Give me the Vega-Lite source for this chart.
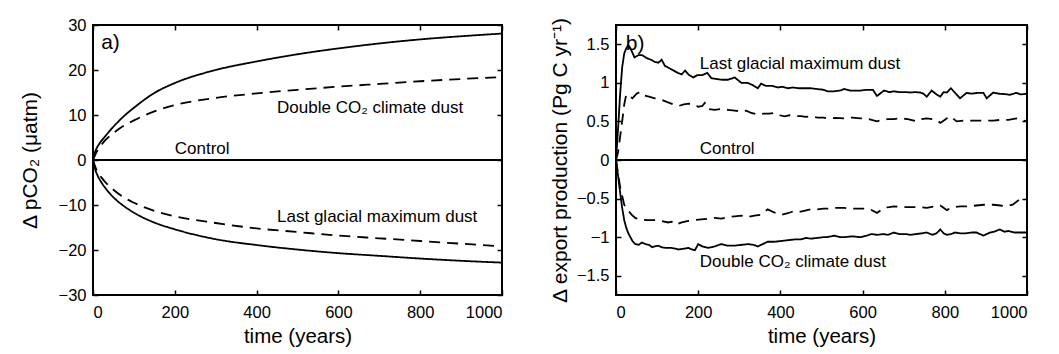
{
  "$schema": "https://vega.github.io/schema/vega-lite/v6.json",
  "background": "white",
  "padding": {"left": 18, "top": 16, "right": 5, "bottom": 2},
  "spacing": 41,
  "config": {
    "font": "Liberation Sans",
    "view": {"stroke": "black", "strokeWidth": 2},
    "axis": {
      "labelFont": "Liberation Sans", "labelFontSize": 16.5, "labelColor": "black",
      "titleFont": "Liberation Sans", "titleFontSize": 21, "titleFontWeight": "normal", "titleColor": "black",
      "tickColor": "black", "tickWidth": 1.5, "tickSize": -5, "domain": false, "grid": false,
      "labelPadding": 12
    },
    "axisX": {"labelPadding": 14, "titlePadding": 6, "titleFontSize": 20.5},
    "text": {"font": "Liberation Sans", "fontSize": 17, "color": "black"}
  },
  "datasets": {
    "a": [
      {"t": 0, "v": 0, "series": "control", "run": "run 1"},
      {"t": 1000, "v": 0, "series": "control", "run": "run 1"},
      {"t": 0, "v": 0, "series": "dcd_1", "run": "run 1"},
      {"t": 5, "v": 1.8, "series": "dcd_1", "run": "run 1"},
      {"t": 10, "v": 2.8, "series": "dcd_1", "run": "run 1"},
      {"t": 20, "v": 4.2, "series": "dcd_1", "run": "run 1"},
      {"t": 30, "v": 5.3, "series": "dcd_1", "run": "run 1"},
      {"t": 50, "v": 7.4, "series": "dcd_1", "run": "run 1"},
      {"t": 75, "v": 9.7, "series": "dcd_1", "run": "run 1"},
      {"t": 100, "v": 11.6, "series": "dcd_1", "run": "run 1"},
      {"t": 150, "v": 14.9, "series": "dcd_1", "run": "run 1"},
      {"t": 200, "v": 17.1, "series": "dcd_1", "run": "run 1"},
      {"t": 300, "v": 20.0, "series": "dcd_1", "run": "run 1"},
      {"t": 400, "v": 21.9, "series": "dcd_1", "run": "run 1"},
      {"t": 500, "v": 23.5, "series": "dcd_1", "run": "run 1"},
      {"t": 600, "v": 24.8, "series": "dcd_1", "run": "run 1"},
      {"t": 700, "v": 25.9, "series": "dcd_1", "run": "run 1"},
      {"t": 800, "v": 26.8, "series": "dcd_1", "run": "run 1"},
      {"t": 900, "v": 27.5, "series": "dcd_1", "run": "run 1"},
      {"t": 1000, "v": 28.1, "series": "dcd_1", "run": "run 1"},
      {"t": 0, "v": 0, "series": "dcd_2", "run": "run 2"},
      {"t": 10, "v": 2.0, "series": "dcd_2", "run": "run 2"},
      {"t": 20, "v": 3.3, "series": "dcd_2", "run": "run 2"},
      {"t": 30, "v": 4.4, "series": "dcd_2", "run": "run 2"},
      {"t": 50, "v": 6.0, "series": "dcd_2", "run": "run 2"},
      {"t": 75, "v": 7.6, "series": "dcd_2", "run": "run 2"},
      {"t": 100, "v": 8.8, "series": "dcd_2", "run": "run 2"},
      {"t": 150, "v": 10.8, "series": "dcd_2", "run": "run 2"},
      {"t": 200, "v": 12.2, "series": "dcd_2", "run": "run 2"},
      {"t": 300, "v": 13.8, "series": "dcd_2", "run": "run 2"},
      {"t": 400, "v": 14.8, "series": "dcd_2", "run": "run 2"},
      {"t": 500, "v": 15.6, "series": "dcd_2", "run": "run 2"},
      {"t": 600, "v": 16.3, "series": "dcd_2", "run": "run 2"},
      {"t": 700, "v": 16.9, "series": "dcd_2", "run": "run 2"},
      {"t": 800, "v": 17.5, "series": "dcd_2", "run": "run 2"},
      {"t": 900, "v": 18.0, "series": "dcd_2", "run": "run 2"},
      {"t": 1000, "v": 18.4, "series": "dcd_2", "run": "run 2"},
      {"t": 0, "v": 0, "series": "lgm_1", "run": "run 1"},
      {"t": 5, "v": -2.0, "series": "lgm_1", "run": "run 1"},
      {"t": 10, "v": -3.2, "series": "lgm_1", "run": "run 1"},
      {"t": 20, "v": -4.9, "series": "lgm_1", "run": "run 1"},
      {"t": 30, "v": -6.2, "series": "lgm_1", "run": "run 1"},
      {"t": 50, "v": -8.3, "series": "lgm_1", "run": "run 1"},
      {"t": 75, "v": -10.2, "series": "lgm_1", "run": "run 1"},
      {"t": 100, "v": -11.7, "series": "lgm_1", "run": "run 1"},
      {"t": 150, "v": -13.9, "series": "lgm_1", "run": "run 1"},
      {"t": 200, "v": -15.4, "series": "lgm_1", "run": "run 1"},
      {"t": 300, "v": -17.6, "series": "lgm_1", "run": "run 1"},
      {"t": 400, "v": -18.9, "series": "lgm_1", "run": "run 1"},
      {"t": 500, "v": -19.9, "series": "lgm_1", "run": "run 1"},
      {"t": 600, "v": -20.7, "series": "lgm_1", "run": "run 1"},
      {"t": 700, "v": -21.3, "series": "lgm_1", "run": "run 1"},
      {"t": 800, "v": -21.9, "series": "lgm_1", "run": "run 1"},
      {"t": 900, "v": -22.4, "series": "lgm_1", "run": "run 1"},
      {"t": 1000, "v": -22.8, "series": "lgm_1", "run": "run 1"},
      {"t": 0, "v": 0, "series": "lgm_2", "run": "run 2"},
      {"t": 10, "v": -2.5, "series": "lgm_2", "run": "run 2"},
      {"t": 20, "v": -3.8, "series": "lgm_2", "run": "run 2"},
      {"t": 30, "v": -4.9, "series": "lgm_2", "run": "run 2"},
      {"t": 50, "v": -6.6, "series": "lgm_2", "run": "run 2"},
      {"t": 75, "v": -8.3, "series": "lgm_2", "run": "run 2"},
      {"t": 100, "v": -9.5, "series": "lgm_2", "run": "run 2"},
      {"t": 150, "v": -11.3, "series": "lgm_2", "run": "run 2"},
      {"t": 200, "v": -12.5, "series": "lgm_2", "run": "run 2"},
      {"t": 300, "v": -14.0, "series": "lgm_2", "run": "run 2"},
      {"t": 400, "v": -15.2, "series": "lgm_2", "run": "run 2"},
      {"t": 500, "v": -16.0, "series": "lgm_2", "run": "run 2"},
      {"t": 600, "v": -16.8, "series": "lgm_2", "run": "run 2"},
      {"t": 700, "v": -17.4, "series": "lgm_2", "run": "run 2"},
      {"t": 800, "v": -18.0, "series": "lgm_2", "run": "run 2"},
      {"t": 900, "v": -18.6, "series": "lgm_2", "run": "run 2"},
      {"t": 1000, "v": -19.2, "series": "lgm_2", "run": "run 2"}
    ],
    "b": [
      {"t": 0, "v": 0, "series": "control", "run": "run 1"},
      {"t": 1000, "v": 0, "series": "control", "run": "run 1"},
      {"t": 0, "v": 0, "series": "lgm_1", "run": "run 1"},
      {"t": 5, "v": 0.4, "series": "lgm_1", "run": "run 1"},
      {"t": 10, "v": 0.85, "series": "lgm_1", "run": "run 1"},
      {"t": 15, "v": 1.2, "series": "lgm_1", "run": "run 1"},
      {"t": 20, "v": 1.38, "series": "lgm_1", "run": "run 1"},
      {"t": 25, "v": 1.45, "series": "lgm_1", "run": "run 1"},
      {"t": 30, "v": 1.49, "series": "lgm_1", "run": "run 1"},
      {"t": 35, "v": 1.45, "series": "lgm_1", "run": "run 1"},
      {"t": 45, "v": 1.33, "series": "lgm_1", "run": "run 1"},
      {"t": 55, "v": 1.36, "series": "lgm_1", "run": "run 1"},
      {"t": 63, "v": 1.36, "series": "lgm_1", "run": "run 1"},
      {"t": 75, "v": 1.32, "series": "lgm_1", "run": "run 1"},
      {"t": 85, "v": 1.30, "series": "lgm_1", "run": "run 1"},
      {"t": 95, "v": 1.27, "series": "lgm_1", "run": "run 1"},
      {"t": 103, "v": 1.26, "series": "lgm_1", "run": "run 1"},
      {"t": 111, "v": 1.30, "series": "lgm_1", "run": "run 1"},
      {"t": 119, "v": 1.22, "series": "lgm_1", "run": "run 1"},
      {"t": 130, "v": 1.19, "series": "lgm_1", "run": "run 1"},
      {"t": 140, "v": 1.16, "series": "lgm_1", "run": "run 1"},
      {"t": 150, "v": 1.13, "series": "lgm_1", "run": "run 1"},
      {"t": 160, "v": 1.11, "series": "lgm_1", "run": "run 1"},
      {"t": 168, "v": 1.16, "series": "lgm_1", "run": "run 1"},
      {"t": 178, "v": 1.10, "series": "lgm_1", "run": "run 1"},
      {"t": 188, "v": 1.07, "series": "lgm_1", "run": "run 1"},
      {"t": 198, "v": 1.10, "series": "lgm_1", "run": "run 1"},
      {"t": 210, "v": 1.10, "series": "lgm_1", "run": "run 1"},
      {"t": 222, "v": 1.13, "series": "lgm_1", "run": "run 1"},
      {"t": 232, "v": 1.06, "series": "lgm_1", "run": "run 1"},
      {"t": 245, "v": 1.05, "series": "lgm_1", "run": "run 1"},
      {"t": 258, "v": 1.04, "series": "lgm_1", "run": "run 1"},
      {"t": 272, "v": 1.04, "series": "lgm_1", "run": "run 1"},
      {"t": 289, "v": 1.07, "series": "lgm_1", "run": "run 1"},
      {"t": 305, "v": 1.00, "series": "lgm_1", "run": "run 1"},
      {"t": 320, "v": 1.00, "series": "lgm_1", "run": "run 1"},
      {"t": 333, "v": 0.97, "series": "lgm_1", "run": "run 1"},
      {"t": 345, "v": 0.93, "series": "lgm_1", "run": "run 1"},
      {"t": 353, "v": 0.99, "series": "lgm_1", "run": "run 1"},
      {"t": 365, "v": 0.96, "series": "lgm_1", "run": "run 1"},
      {"t": 380, "v": 0.96, "series": "lgm_1", "run": "run 1"},
      {"t": 394, "v": 0.94, "series": "lgm_1", "run": "run 1"},
      {"t": 405, "v": 0.95, "series": "lgm_1", "run": "run 1"},
      {"t": 418, "v": 0.93, "series": "lgm_1", "run": "run 1"},
      {"t": 430, "v": 0.94, "series": "lgm_1", "run": "run 1"},
      {"t": 445, "v": 0.93, "series": "lgm_1", "run": "run 1"},
      {"t": 460, "v": 0.93, "series": "lgm_1", "run": "run 1"},
      {"t": 474, "v": 0.93, "series": "lgm_1", "run": "run 1"},
      {"t": 490, "v": 0.92, "series": "lgm_1", "run": "run 1"},
      {"t": 505, "v": 0.91, "series": "lgm_1", "run": "run 1"},
      {"t": 515, "v": 0.89, "series": "lgm_1", "run": "run 1"},
      {"t": 530, "v": 0.89, "series": "lgm_1", "run": "run 1"},
      {"t": 545, "v": 0.90, "series": "lgm_1", "run": "run 1"},
      {"t": 555, "v": 0.92, "series": "lgm_1", "run": "run 1"},
      {"t": 570, "v": 0.90, "series": "lgm_1", "run": "run 1"},
      {"t": 585, "v": 0.90, "series": "lgm_1", "run": "run 1"},
      {"t": 595, "v": 0.90, "series": "lgm_1", "run": "run 1"},
      {"t": 610, "v": 0.91, "series": "lgm_1", "run": "run 1"},
      {"t": 625, "v": 0.91, "series": "lgm_1", "run": "run 1"},
      {"t": 635, "v": 0.83, "series": "lgm_1", "run": "run 1"},
      {"t": 652, "v": 0.90, "series": "lgm_1", "run": "run 1"},
      {"t": 665, "v": 0.88, "series": "lgm_1", "run": "run 1"},
      {"t": 676, "v": 0.89, "series": "lgm_1", "run": "run 1"},
      {"t": 690, "v": 0.88, "series": "lgm_1", "run": "run 1"},
      {"t": 705, "v": 0.88, "series": "lgm_1", "run": "run 1"},
      {"t": 716, "v": 0.875, "series": "lgm_1", "run": "run 1"},
      {"t": 728, "v": 0.88, "series": "lgm_1", "run": "run 1"},
      {"t": 740, "v": 0.875, "series": "lgm_1", "run": "run 1"},
      {"t": 748, "v": 0.86, "series": "lgm_1", "run": "run 1"},
      {"t": 756, "v": 0.82, "series": "lgm_1", "run": "run 1"},
      {"t": 768, "v": 0.90, "series": "lgm_1", "run": "run 1"},
      {"t": 780, "v": 0.85, "series": "lgm_1", "run": "run 1"},
      {"t": 789, "v": 0.82, "series": "lgm_1", "run": "run 1"},
      {"t": 797, "v": 0.88, "series": "lgm_1", "run": "run 1"},
      {"t": 805, "v": 0.875, "series": "lgm_1", "run": "run 1"},
      {"t": 815, "v": 0.93, "series": "lgm_1", "run": "run 1"},
      {"t": 825, "v": 0.87, "series": "lgm_1", "run": "run 1"},
      {"t": 837, "v": 0.80, "series": "lgm_1", "run": "run 1"},
      {"t": 853, "v": 0.87, "series": "lgm_1", "run": "run 1"},
      {"t": 865, "v": 0.86, "series": "lgm_1", "run": "run 1"},
      {"t": 880, "v": 0.87, "series": "lgm_1", "run": "run 1"},
      {"t": 894, "v": 0.87, "series": "lgm_1", "run": "run 1"},
      {"t": 902, "v": 0.80, "series": "lgm_1", "run": "run 1"},
      {"t": 918, "v": 0.875, "series": "lgm_1", "run": "run 1"},
      {"t": 930, "v": 0.86, "series": "lgm_1", "run": "run 1"},
      {"t": 945, "v": 0.855, "series": "lgm_1", "run": "run 1"},
      {"t": 958, "v": 0.845, "series": "lgm_1", "run": "run 1"},
      {"t": 974, "v": 0.87, "series": "lgm_1", "run": "run 1"},
      {"t": 985, "v": 0.85, "series": "lgm_1", "run": "run 1"},
      {"t": 1000, "v": 0.86, "series": "lgm_1", "run": "run 1"},
      {"t": 0, "v": 0, "series": "lgm_2", "run": "run 2"},
      {"t": 5, "v": 0.1, "series": "lgm_2", "run": "run 2"},
      {"t": 10, "v": 0.3, "series": "lgm_2", "run": "run 2"},
      {"t": 15, "v": 0.5, "series": "lgm_2", "run": "run 2"},
      {"t": 20, "v": 0.72, "series": "lgm_2", "run": "run 2"},
      {"t": 25, "v": 0.85, "series": "lgm_2", "run": "run 2"},
      {"t": 30, "v": 0.84, "series": "lgm_2", "run": "run 2"},
      {"t": 40, "v": 0.80, "series": "lgm_2", "run": "run 2"},
      {"t": 50, "v": 0.86, "series": "lgm_2", "run": "run 2"},
      {"t": 58, "v": 0.88, "series": "lgm_2", "run": "run 2"},
      {"t": 66, "v": 0.84, "series": "lgm_2", "run": "run 2"},
      {"t": 80, "v": 0.82, "series": "lgm_2", "run": "run 2"},
      {"t": 95, "v": 0.80, "series": "lgm_2", "run": "run 2"},
      {"t": 111, "v": 0.78, "series": "lgm_2", "run": "run 2"},
      {"t": 125, "v": 0.75, "series": "lgm_2", "run": "run 2"},
      {"t": 140, "v": 0.72, "series": "lgm_2", "run": "run 2"},
      {"t": 152, "v": 0.70, "series": "lgm_2", "run": "run 2"},
      {"t": 165, "v": 0.72, "series": "lgm_2", "run": "run 2"},
      {"t": 176, "v": 0.73, "series": "lgm_2", "run": "run 2"},
      {"t": 190, "v": 0.72, "series": "lgm_2", "run": "run 2"},
      {"t": 200, "v": 0.69, "series": "lgm_2", "run": "run 2"},
      {"t": 210, "v": 0.70, "series": "lgm_2", "run": "run 2"},
      {"t": 216, "v": 0.74, "series": "lgm_2", "run": "run 2"},
      {"t": 224, "v": 0.66, "series": "lgm_2", "run": "run 2"},
      {"t": 240, "v": 0.65, "series": "lgm_2", "run": "run 2"},
      {"t": 256, "v": 0.66, "series": "lgm_2", "run": "run 2"},
      {"t": 272, "v": 0.65, "series": "lgm_2", "run": "run 2"},
      {"t": 289, "v": 0.64, "series": "lgm_2", "run": "run 2"},
      {"t": 305, "v": 0.63, "series": "lgm_2", "run": "run 2"},
      {"t": 317, "v": 0.64, "series": "lgm_2", "run": "run 2"},
      {"t": 329, "v": 0.61, "series": "lgm_2", "run": "run 2"},
      {"t": 345, "v": 0.59, "series": "lgm_2", "run": "run 2"},
      {"t": 360, "v": 0.60, "series": "lgm_2", "run": "run 2"},
      {"t": 373, "v": 0.60, "series": "lgm_2", "run": "run 2"},
      {"t": 385, "v": 0.61, "series": "lgm_2", "run": "run 2"},
      {"t": 398, "v": 0.58, "series": "lgm_2", "run": "run 2"},
      {"t": 410, "v": 0.565, "series": "lgm_2", "run": "run 2"},
      {"t": 422, "v": 0.58, "series": "lgm_2", "run": "run 2"},
      {"t": 434, "v": 0.57, "series": "lgm_2", "run": "run 2"},
      {"t": 450, "v": 0.57, "series": "lgm_2", "run": "run 2"},
      {"t": 462, "v": 0.56, "series": "lgm_2", "run": "run 2"},
      {"t": 474, "v": 0.565, "series": "lgm_2", "run": "run 2"},
      {"t": 490, "v": 0.55, "series": "lgm_2", "run": "run 2"},
      {"t": 505, "v": 0.55, "series": "lgm_2", "run": "run 2"},
      {"t": 515, "v": 0.54, "series": "lgm_2", "run": "run 2"},
      {"t": 535, "v": 0.545, "series": "lgm_2", "run": "run 2"},
      {"t": 555, "v": 0.54, "series": "lgm_2", "run": "run 2"},
      {"t": 575, "v": 0.55, "series": "lgm_2", "run": "run 2"},
      {"t": 595, "v": 0.54, "series": "lgm_2", "run": "run 2"},
      {"t": 615, "v": 0.53, "series": "lgm_2", "run": "run 2"},
      {"t": 635, "v": 0.50, "series": "lgm_2", "run": "run 2"},
      {"t": 648, "v": 0.52, "series": "lgm_2", "run": "run 2"},
      {"t": 660, "v": 0.53, "series": "lgm_2", "run": "run 2"},
      {"t": 676, "v": 0.53, "series": "lgm_2", "run": "run 2"},
      {"t": 692, "v": 0.54, "series": "lgm_2", "run": "run 2"},
      {"t": 710, "v": 0.53, "series": "lgm_2", "run": "run 2"},
      {"t": 732, "v": 0.50, "series": "lgm_2", "run": "run 2"},
      {"t": 744, "v": 0.53, "series": "lgm_2", "run": "run 2"},
      {"t": 756, "v": 0.54, "series": "lgm_2", "run": "run 2"},
      {"t": 770, "v": 0.53, "series": "lgm_2", "run": "run 2"},
      {"t": 780, "v": 0.52, "series": "lgm_2", "run": "run 2"},
      {"t": 789, "v": 0.48, "series": "lgm_2", "run": "run 2"},
      {"t": 797, "v": 0.51, "series": "lgm_2", "run": "run 2"},
      {"t": 805, "v": 0.54, "series": "lgm_2", "run": "run 2"},
      {"t": 815, "v": 0.565, "series": "lgm_2", "run": "run 2"},
      {"t": 822, "v": 0.53, "series": "lgm_2", "run": "run 2"},
      {"t": 829, "v": 0.50, "series": "lgm_2", "run": "run 2"},
      {"t": 845, "v": 0.51, "series": "lgm_2", "run": "run 2"},
      {"t": 860, "v": 0.51, "series": "lgm_2", "run": "run 2"},
      {"t": 877, "v": 0.51, "series": "lgm_2", "run": "run 2"},
      {"t": 895, "v": 0.51, "series": "lgm_2", "run": "run 2"},
      {"t": 918, "v": 0.51, "series": "lgm_2", "run": "run 2"},
      {"t": 935, "v": 0.52, "series": "lgm_2", "run": "run 2"},
      {"t": 955, "v": 0.52, "series": "lgm_2", "run": "run 2"},
      {"t": 974, "v": 0.54, "series": "lgm_2", "run": "run 2"},
      {"t": 985, "v": 0.52, "series": "lgm_2", "run": "run 2"},
      {"t": 1000, "v": 0.50, "series": "lgm_2", "run": "run 2"},
      {"t": 0, "v": 0, "series": "dcd_1", "run": "run 1"},
      {"t": 5, "v": -0.2, "series": "dcd_1", "run": "run 1"},
      {"t": 10, "v": -0.42, "series": "dcd_1", "run": "run 1"},
      {"t": 15, "v": -0.62, "series": "dcd_1", "run": "run 1"},
      {"t": 20, "v": -0.78, "series": "dcd_1", "run": "run 1"},
      {"t": 25, "v": -0.88, "series": "dcd_1", "run": "run 1"},
      {"t": 30, "v": -0.95, "series": "dcd_1", "run": "run 1"},
      {"t": 40, "v": -1.05, "series": "dcd_1", "run": "run 1"},
      {"t": 47, "v": -1.09, "series": "dcd_1", "run": "run 1"},
      {"t": 55, "v": -1.10, "series": "dcd_1", "run": "run 1"},
      {"t": 63, "v": -1.07, "series": "dcd_1", "run": "run 1"},
      {"t": 72, "v": -1.09, "series": "dcd_1", "run": "run 1"},
      {"t": 80, "v": -1.10, "series": "dcd_1", "run": "run 1"},
      {"t": 88, "v": -1.13, "series": "dcd_1", "run": "run 1"},
      {"t": 95, "v": -1.12, "series": "dcd_1", "run": "run 1"},
      {"t": 103, "v": -1.11, "series": "dcd_1", "run": "run 1"},
      {"t": 111, "v": -1.13, "series": "dcd_1", "run": "run 1"},
      {"t": 120, "v": -1.14, "series": "dcd_1", "run": "run 1"},
      {"t": 135, "v": -1.14, "series": "dcd_1", "run": "run 1"},
      {"t": 145, "v": -1.15, "series": "dcd_1", "run": "run 1"},
      {"t": 152, "v": -1.16, "series": "dcd_1", "run": "run 1"},
      {"t": 165, "v": -1.15, "series": "dcd_1", "run": "run 1"},
      {"t": 176, "v": -1.14, "series": "dcd_1", "run": "run 1"},
      {"t": 185, "v": -1.16, "series": "dcd_1", "run": "run 1"},
      {"t": 192, "v": -1.17, "series": "dcd_1", "run": "run 1"},
      {"t": 200, "v": -1.09, "series": "dcd_1", "run": "run 1"},
      {"t": 210, "v": -1.12, "series": "dcd_1", "run": "run 1"},
      {"t": 224, "v": -1.14, "series": "dcd_1", "run": "run 1"},
      {"t": 240, "v": -1.12, "series": "dcd_1", "run": "run 1"},
      {"t": 256, "v": -1.09, "series": "dcd_1", "run": "run 1"},
      {"t": 270, "v": -1.11, "series": "dcd_1", "run": "run 1"},
      {"t": 289, "v": -1.11, "series": "dcd_1", "run": "run 1"},
      {"t": 305, "v": -1.10, "series": "dcd_1", "run": "run 1"},
      {"t": 321, "v": -1.09, "series": "dcd_1", "run": "run 1"},
      {"t": 335, "v": -1.10, "series": "dcd_1", "run": "run 1"},
      {"t": 345, "v": -1.12, "series": "dcd_1", "run": "run 1"},
      {"t": 357, "v": -1.09, "series": "dcd_1", "run": "run 1"},
      {"t": 369, "v": -1.06, "series": "dcd_1", "run": "run 1"},
      {"t": 385, "v": -1.06, "series": "dcd_1", "run": "run 1"},
      {"t": 402, "v": -1.05, "series": "dcd_1", "run": "run 1"},
      {"t": 418, "v": -1.04, "series": "dcd_1", "run": "run 1"},
      {"t": 434, "v": -1.03, "series": "dcd_1", "run": "run 1"},
      {"t": 450, "v": -1.03, "series": "dcd_1", "run": "run 1"},
      {"t": 462, "v": -1.01, "series": "dcd_1", "run": "run 1"},
      {"t": 474, "v": -1.02, "series": "dcd_1", "run": "run 1"},
      {"t": 490, "v": -1.01, "series": "dcd_1", "run": "run 1"},
      {"t": 505, "v": -1.00, "series": "dcd_1", "run": "run 1"},
      {"t": 515, "v": -1.00, "series": "dcd_1", "run": "run 1"},
      {"t": 530, "v": -0.98, "series": "dcd_1", "run": "run 1"},
      {"t": 545, "v": -1.00, "series": "dcd_1", "run": "run 1"},
      {"t": 555, "v": -1.00, "series": "dcd_1", "run": "run 1"},
      {"t": 575, "v": -0.99, "series": "dcd_1", "run": "run 1"},
      {"t": 595, "v": -1.00, "series": "dcd_1", "run": "run 1"},
      {"t": 610, "v": -0.98, "series": "dcd_1", "run": "run 1"},
      {"t": 622, "v": -0.96, "series": "dcd_1", "run": "run 1"},
      {"t": 635, "v": -0.97, "series": "dcd_1", "run": "run 1"},
      {"t": 650, "v": -0.96, "series": "dcd_1", "run": "run 1"},
      {"t": 662, "v": -0.97, "series": "dcd_1", "run": "run 1"},
      {"t": 676, "v": -0.94, "series": "dcd_1", "run": "run 1"},
      {"t": 690, "v": -0.96, "series": "dcd_1", "run": "run 1"},
      {"t": 705, "v": -0.96, "series": "dcd_1", "run": "run 1"},
      {"t": 716, "v": -0.97, "series": "dcd_1", "run": "run 1"},
      {"t": 730, "v": -0.96, "series": "dcd_1", "run": "run 1"},
      {"t": 745, "v": -0.95, "series": "dcd_1", "run": "run 1"},
      {"t": 756, "v": -0.94, "series": "dcd_1", "run": "run 1"},
      {"t": 770, "v": -0.97, "series": "dcd_1", "run": "run 1"},
      {"t": 780, "v": -0.95, "series": "dcd_1", "run": "run 1"},
      {"t": 789, "v": -0.90, "series": "dcd_1", "run": "run 1"},
      {"t": 797, "v": -0.95, "series": "dcd_1", "run": "run 1"},
      {"t": 805, "v": -0.97, "series": "dcd_1", "run": "run 1"},
      {"t": 815, "v": -0.96, "series": "dcd_1", "run": "run 1"},
      {"t": 825, "v": -0.94, "series": "dcd_1", "run": "run 1"},
      {"t": 837, "v": -0.95, "series": "dcd_1", "run": "run 1"},
      {"t": 850, "v": -0.95, "series": "dcd_1", "run": "run 1"},
      {"t": 865, "v": -0.94, "series": "dcd_1", "run": "run 1"},
      {"t": 877, "v": -0.94, "series": "dcd_1", "run": "run 1"},
      {"t": 894, "v": -0.98, "series": "dcd_1", "run": "run 1"},
      {"t": 910, "v": -0.94, "series": "dcd_1", "run": "run 1"},
      {"t": 920, "v": -0.93, "series": "dcd_1", "run": "run 1"},
      {"t": 934, "v": -0.90, "series": "dcd_1", "run": "run 1"},
      {"t": 945, "v": -0.93, "series": "dcd_1", "run": "run 1"},
      {"t": 955, "v": -0.92, "series": "dcd_1", "run": "run 1"},
      {"t": 970, "v": -0.94, "series": "dcd_1", "run": "run 1"},
      {"t": 985, "v": -0.94, "series": "dcd_1", "run": "run 1"},
      {"t": 1000, "v": -0.94, "series": "dcd_1", "run": "run 1"},
      {"t": 0, "v": 0, "series": "dcd_2", "run": "run 2"},
      {"t": 10, "v": -0.35, "series": "dcd_2", "run": "run 2"},
      {"t": 20, "v": -0.58, "series": "dcd_2", "run": "run 2"},
      {"t": 30, "v": -0.66, "series": "dcd_2", "run": "run 2"},
      {"t": 40, "v": -0.72, "series": "dcd_2", "run": "run 2"},
      {"t": 47, "v": -0.75, "series": "dcd_2", "run": "run 2"},
      {"t": 55, "v": -0.77, "series": "dcd_2", "run": "run 2"},
      {"t": 63, "v": -0.77, "series": "dcd_2", "run": "run 2"},
      {"t": 75, "v": -0.78, "series": "dcd_2", "run": "run 2"},
      {"t": 95, "v": -0.78, "series": "dcd_2", "run": "run 2"},
      {"t": 110, "v": -0.79, "series": "dcd_2", "run": "run 2"},
      {"t": 127, "v": -0.81, "series": "dcd_2", "run": "run 2"},
      {"t": 135, "v": -0.80, "series": "dcd_2", "run": "run 2"},
      {"t": 144, "v": -0.84, "series": "dcd_2", "run": "run 2"},
      {"t": 160, "v": -0.81, "series": "dcd_2", "run": "run 2"},
      {"t": 176, "v": -0.79, "series": "dcd_2", "run": "run 2"},
      {"t": 190, "v": -0.78, "series": "dcd_2", "run": "run 2"},
      {"t": 208, "v": -0.77, "series": "dcd_2", "run": "run 2"},
      {"t": 225, "v": -0.76, "series": "dcd_2", "run": "run 2"},
      {"t": 240, "v": -0.75, "series": "dcd_2", "run": "run 2"},
      {"t": 256, "v": -0.76, "series": "dcd_2", "run": "run 2"},
      {"t": 272, "v": -0.74, "series": "dcd_2", "run": "run 2"},
      {"t": 289, "v": -0.73, "series": "dcd_2", "run": "run 2"},
      {"t": 305, "v": -0.72, "series": "dcd_2", "run": "run 2"},
      {"t": 320, "v": -0.74, "series": "dcd_2", "run": "run 2"},
      {"t": 337, "v": -0.72, "series": "dcd_2", "run": "run 2"},
      {"t": 353, "v": -0.71, "series": "dcd_2", "run": "run 2"},
      {"t": 369, "v": -0.64, "series": "dcd_2", "run": "run 2"},
      {"t": 385, "v": -0.68, "series": "dcd_2", "run": "run 2"},
      {"t": 402, "v": -0.71, "series": "dcd_2", "run": "run 2"},
      {"t": 418, "v": -0.69, "series": "dcd_2", "run": "run 2"},
      {"t": 434, "v": -0.66, "series": "dcd_2", "run": "run 2"},
      {"t": 450, "v": -0.67, "series": "dcd_2", "run": "run 2"},
      {"t": 474, "v": -0.64, "series": "dcd_2", "run": "run 2"},
      {"t": 490, "v": -0.64, "series": "dcd_2", "run": "run 2"},
      {"t": 505, "v": -0.63, "series": "dcd_2", "run": "run 2"},
      {"t": 515, "v": -0.63, "series": "dcd_2", "run": "run 2"},
      {"t": 535, "v": -0.62, "series": "dcd_2", "run": "run 2"},
      {"t": 555, "v": -0.62, "series": "dcd_2", "run": "run 2"},
      {"t": 575, "v": -0.63, "series": "dcd_2", "run": "run 2"},
      {"t": 595, "v": -0.63, "series": "dcd_2", "run": "run 2"},
      {"t": 615, "v": -0.63, "series": "dcd_2", "run": "run 2"},
      {"t": 635, "v": -0.685, "series": "dcd_2", "run": "run 2"},
      {"t": 645, "v": -0.65, "series": "dcd_2", "run": "run 2"},
      {"t": 652, "v": -0.62, "series": "dcd_2", "run": "run 2"},
      {"t": 665, "v": -0.61, "series": "dcd_2", "run": "run 2"},
      {"t": 676, "v": -0.60, "series": "dcd_2", "run": "run 2"},
      {"t": 695, "v": -0.61, "series": "dcd_2", "run": "run 2"},
      {"t": 716, "v": -0.61, "series": "dcd_2", "run": "run 2"},
      {"t": 735, "v": -0.61, "series": "dcd_2", "run": "run 2"},
      {"t": 756, "v": -0.62, "series": "dcd_2", "run": "run 2"},
      {"t": 775, "v": -0.60, "series": "dcd_2", "run": "run 2"},
      {"t": 789, "v": -0.59, "series": "dcd_2", "run": "run 2"},
      {"t": 797, "v": -0.62, "series": "dcd_2", "run": "run 2"},
      {"t": 805, "v": -0.65, "series": "dcd_2", "run": "run 2"},
      {"t": 815, "v": -0.62, "series": "dcd_2", "run": "run 2"},
      {"t": 837, "v": -0.60, "series": "dcd_2", "run": "run 2"},
      {"t": 855, "v": -0.60, "series": "dcd_2", "run": "run 2"},
      {"t": 877, "v": -0.59, "series": "dcd_2", "run": "run 2"},
      {"t": 895, "v": -0.58, "series": "dcd_2", "run": "run 2"},
      {"t": 918, "v": -0.58, "series": "dcd_2", "run": "run 2"},
      {"t": 935, "v": -0.59, "series": "dcd_2", "run": "run 2"},
      {"t": 950, "v": -0.60, "series": "dcd_2", "run": "run 2"},
      {"t": 965, "v": -0.58, "series": "dcd_2", "run": "run 2"},
      {"t": 982, "v": -0.51, "series": "dcd_2", "run": "run 2"},
      {"t": 1000, "v": -0.51, "series": "dcd_2", "run": "run 2"}
    ],
    "labels_a": [
      {"t": 20, "v": 26, "text": "a)", "kind": "panel"},
      {"t": 450, "v": 11.6, "text": "Double CO₂ climate dust", "kind": "series"},
      {"t": 200, "v": 2.4, "text": "Control", "kind": "series"},
      {"t": 450, "v": -12.7, "text": "Last glacial maximum dust", "kind": "series"}
    ],
    "labels_b": [
      {"t": 24, "v": 1.5, "text": "b)", "kind": "panel"},
      {"t": 204, "v": 1.25, "text": "Last glacial maximum dust", "kind": "series"},
      {"t": 204, "v": 0.14, "text": "Control", "kind": "series"},
      {"t": 204, "v": -1.32, "text": "Double CO₂ climate dust", "kind": "series"}
    ]
  },
  "hconcat": [
    {
      "width": 409, "height": 270,
      "layer": [
        {
          "data": {"name": "a"},
          "mark": {"type": "line", "interpolate": "monotone", "strokeWidth": 1.8, "color": "black"},
          "encoding": {
            "x": {"field": "t", "type": "quantitative", "scale": {"domain": [0, 1000], "nice": false}, "axis": {"title": "time (years)", "values": [0, 200, 400, 600, 800, 1000], "format": "d"}},
            "y": {"field": "v", "type": "quantitative", "scale": {"domain": [-30, 30], "nice": false}, "axis": {"title": "Δ pCO₂ (μatm)", "values": [-30, -20, -10, 0, 10, 20, 30], "titlePadding": 18}},
            "detail": {"field": "series"},
            "strokeDash": {"field": "run", "type": "nominal", "scale": {"domain": ["run 1", "run 2"], "range": [[1, 0], [11, 7]]}, "legend": null}
          }
        },
        {
          "data": {"name": "a"},
          "mark": {"type": "line", "strokeOpacity": 0},
          "encoding": {
            "x": {"field": "t", "type": "quantitative", "axis": {"orient": "top", "labels": false, "title": null, "values": [0, 200, 400, 600, 800, 1000]}},
            "y": {"field": "v", "type": "quantitative", "axis": {"orient": "right", "labels": false, "title": null, "values": [-30, -20, -10, 0, 10, 20, 30]}},
            "detail": {"field": "series"}
          }
        },
        {
          "data": {"name": "labels_a"},
          "mark": {"type": "text", "align": "left", "baseline": "middle"},
          "encoding": {
            "x": {"field": "t", "type": "quantitative", "axis": null},
            "y": {"field": "v", "type": "quantitative", "axis": null},
            "text": {"field": "text"},
            "size": {"field": "kind", "type": "nominal", "scale": {"domain": ["panel", "series"], "range": [21, 17]}, "legend": null}
          }
        }
      ],
      "resolve": {"axis": {"x": "independent", "y": "independent"}}
    },
    {
      "width": 411, "height": 270,
      "layer": [
        {
          "data": {"name": "b"},
          "mark": {"type": "line", "strokeWidth": 1.8, "color": "black"},
          "encoding": {
            "x": {"field": "t", "type": "quantitative", "scale": {"domain": [0, 1000], "nice": false}, "axis": {"title": "time (years)", "values": [0, 200, 400, 600, 800, 1000], "format": "d"}},
            "y": {"field": "v", "type": "quantitative", "scale": {"domain": [-1.75, 1.75], "nice": false}, "axis": {"title": "Δ export production (Pg C yr⁻¹)", "values": [-1.5, -1, -0.5, 0, 0.5, 1, 1.5], "format": "~g", "titlePadding": 6}},
            "detail": {"field": "series"},
            "strokeDash": {"field": "run", "type": "nominal", "scale": {"domain": ["run 1", "run 2"], "range": [[1, 0], [9, 6]]}, "legend": null}
          }
        },
        {
          "data": {"name": "b"},
          "mark": {"type": "line", "strokeOpacity": 0},
          "encoding": {
            "x": {"field": "t", "type": "quantitative", "axis": {"orient": "top", "labels": false, "title": null, "values": [0, 200, 400, 600, 800, 1000]}},
            "y": {"field": "v", "type": "quantitative", "axis": {"orient": "right", "labels": false, "title": null, "values": [-1.5, -1, -0.5, 0, 0.5, 1, 1.5]}},
            "detail": {"field": "series"}
          }
        },
        {
          "data": {"name": "labels_b"},
          "mark": {"type": "text", "align": "left", "baseline": "middle"},
          "encoding": {
            "x": {"field": "t", "type": "quantitative", "axis": null},
            "y": {"field": "v", "type": "quantitative", "axis": null},
            "text": {"field": "text"},
            "size": {"field": "kind", "type": "nominal", "scale": {"domain": ["panel", "series"], "range": [21, 17]}, "legend": null}
          }
        }
      ],
      "resolve": {"axis": {"x": "independent", "y": "independent"}}
    }
  ]
}
